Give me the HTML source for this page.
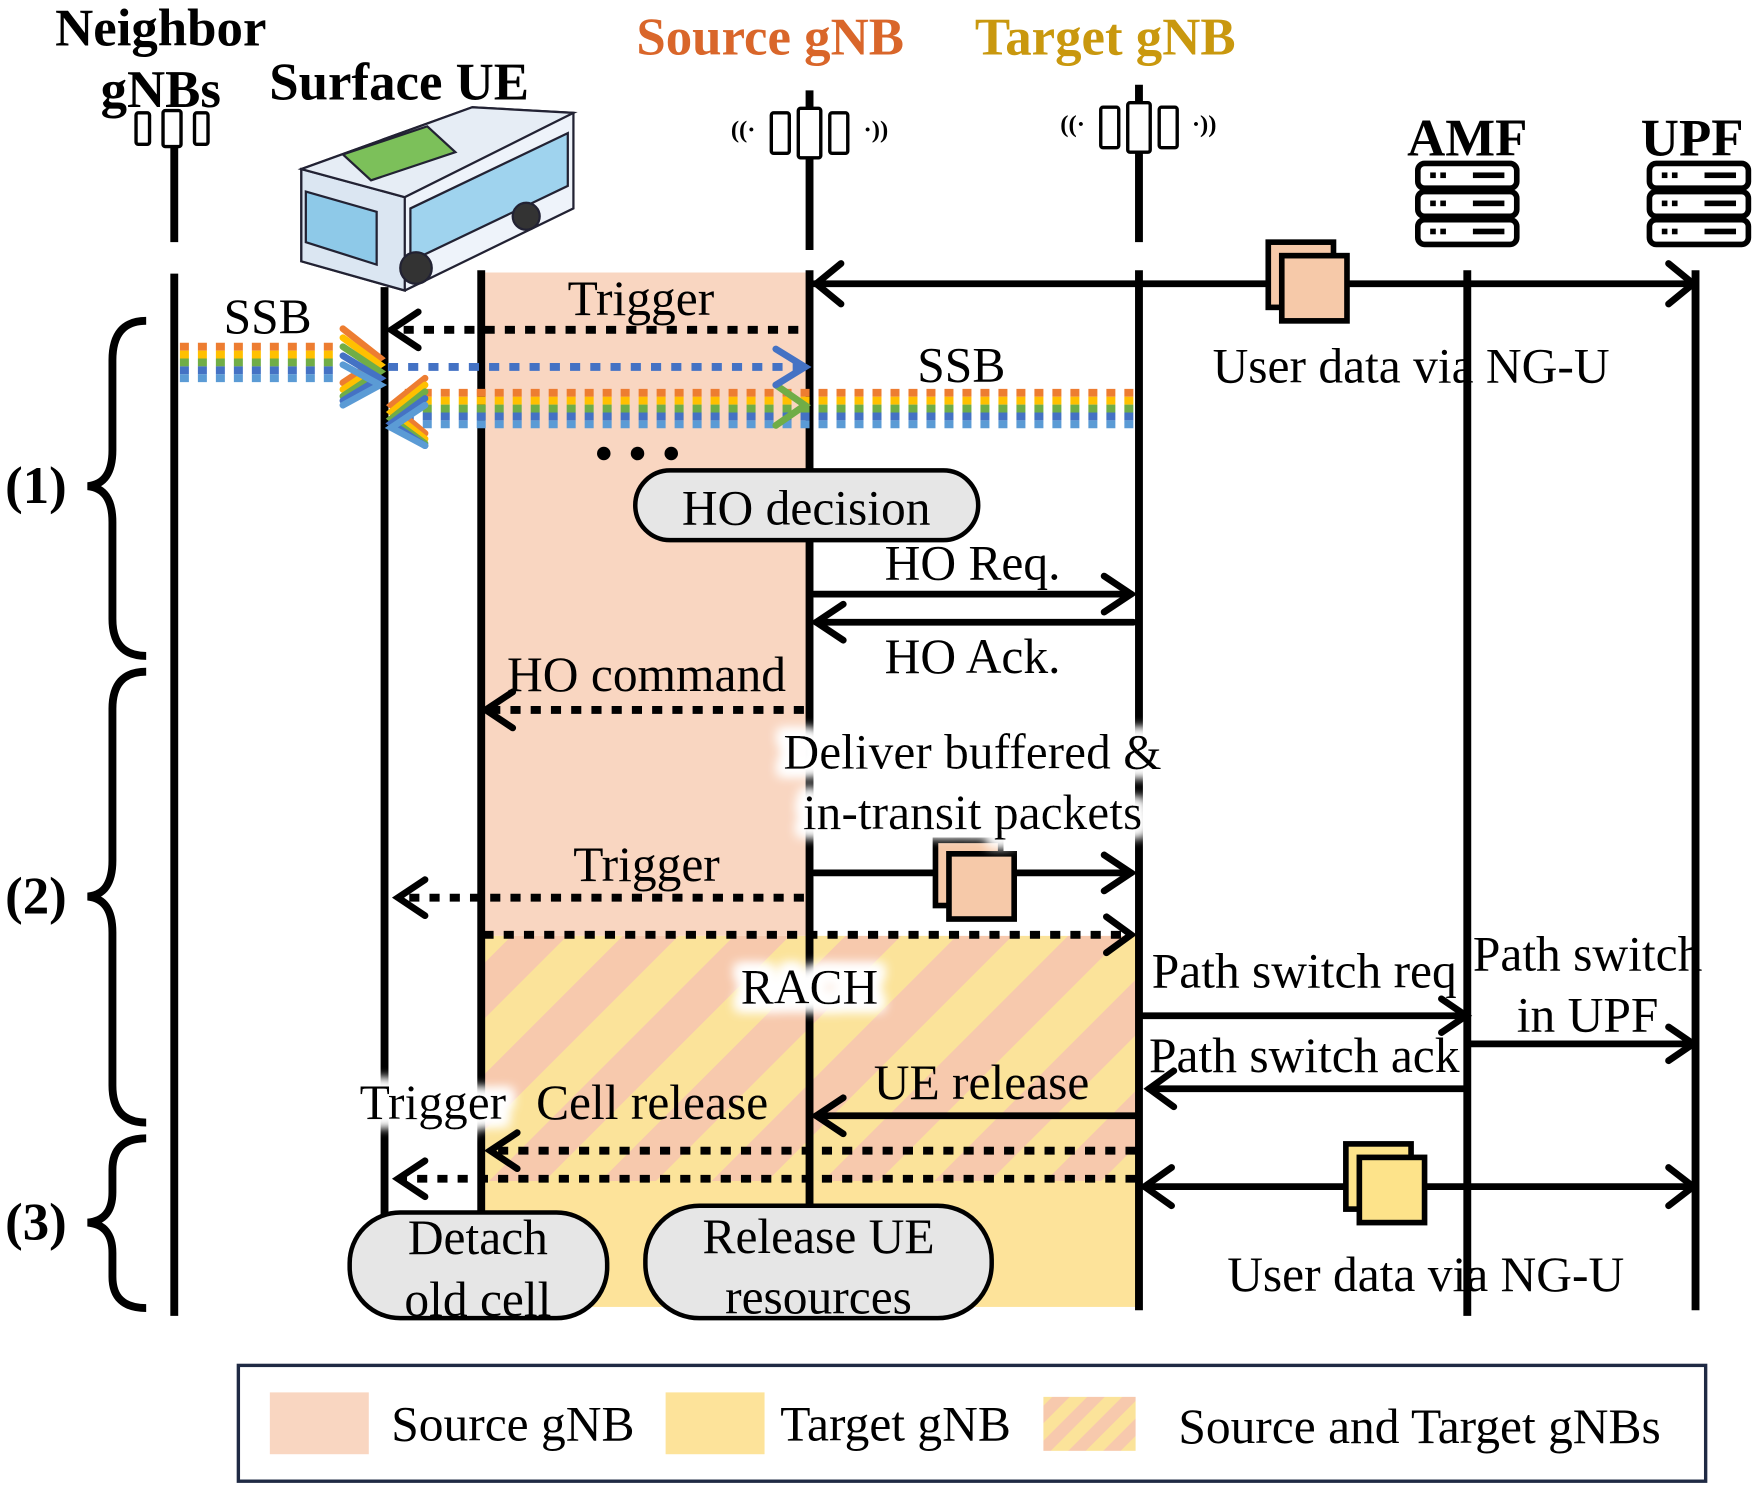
<!DOCTYPE html>
<html><head><meta charset="utf-8"><style>
html,body{margin:0;padding:0;background:#fff;}
svg{display:block;}
text{font-family:"Liberation Serif",serif;}
</style></head><body>
<svg width="1754" height="1485" viewBox="0 0 1560 1320" xmlns="http://www.w3.org/2000/svg">
<defs>
<pattern id="hatch" patternUnits="userSpaceOnUse" width="70" height="70" patternTransform="rotate(45)">
<rect width="70" height="70" fill="#fbe39a"/>
<rect width="35" height="70" fill="#f7c9ad"/>
</pattern>
<pattern id="hatch2" patternUnits="userSpaceOnUse" width="22" height="22" patternTransform="rotate(45)">
<rect width="22" height="22" fill="#fbe39a"/>
<rect width="11" height="22" fill="#f7c9ad"/>
</pattern>
<filter id="glow"><feMorphology operator="dilate" radius="6" in="SourceAlpha" result="d"/><feGaussianBlur in="d" stdDeviation="5" result="b"/><feFlood flood-color="#fff"/><feComposite in2="b" operator="in"/><feMerge><feMergeNode/><feMergeNode/><feMergeNode in="SourceGraphic"/></feMerge></filter>
</defs>

<rect x="428" y="242" width="292" height="590" fill="#f9d6c1"/>
<rect x="428" y="832" width="584" height="218" fill="url(#hatch)"/>
<rect x="428" y="1050" width="584" height="112" fill="#fde39a"/>

<g stroke="#000" stroke-width="7" fill="none">
<line x1="155" y1="130" x2="155" y2="215"/>
<line x1="155" y1="243" x2="155" y2="1170"/>
<line x1="342" y1="255" x2="342" y2="1080"/>
<line x1="428" y1="240" x2="428" y2="1080"/>
<line x1="720" y1="80" x2="720" y2="222"/>
<line x1="720" y1="240" x2="720" y2="1072"/>
<line x1="1013" y1="75" x2="1013" y2="215"/>
<line x1="1013" y1="240" x2="1013" y2="1165"/>
<line x1="1305" y1="240" x2="1305" y2="1170"/>
<line x1="1508" y1="240" x2="1508" y2="1165"/>
</g>

<g stroke="#000" stroke-width="3" fill="#fff">
<rect x="686" y="100" width="16" height="36" rx="2"/><rect x="738" y="100" width="16" height="36" rx="2"/><rect x="710" y="96" width="20" height="44" rx="2"/>
<rect x="979" y="95" width="16" height="36" rx="2"/><rect x="1031" y="95" width="16" height="36" rx="2"/><rect x="1003" y="91" width="20" height="44" rx="2"/>
<rect x="121" y="100" width="12" height="28" rx="2"/><rect x="173" y="100" width="12" height="28" rx="2"/><rect x="145" y="98" width="16" height="32" rx="2"/>
</g>
<g font-size="22" font-family="DejaVu Sans" font-weight="bold" fill="#000">
<text x="650" y="122">((·</text><text x="768" y="122">·))</text>
<text x="943" y="117">((·</text><text x="1060" y="117">·))</text>
</g>

<g stroke="#000" stroke-width="5" fill="#fff">
<rect x="1261" y="145" width="88" height="22" rx="6"/><rect x="1261" y="170" width="88" height="22" rx="6"/><rect x="1261" y="195" width="88" height="22" rx="6"/>
<rect x="1467" y="145" width="88" height="22" rx="6"/><rect x="1467" y="170" width="88" height="22" rx="6"/><rect x="1467" y="195" width="88" height="22" rx="6"/>
</g>
<g fill="#000">
<rect x="1272" y="153" width="5" height="5"/><rect x="1281" y="153" width="5" height="5"/><rect x="1310" y="153" width="28" height="5"/>
<rect x="1272" y="178" width="5" height="5"/><rect x="1281" y="178" width="5" height="5"/><rect x="1310" y="178" width="28" height="5"/>
<rect x="1272" y="203" width="5" height="5"/><rect x="1281" y="203" width="5" height="5"/><rect x="1310" y="203" width="28" height="5"/>
<rect x="1478" y="153" width="5" height="5"/><rect x="1487" y="153" width="5" height="5"/><rect x="1516" y="153" width="28" height="5"/>
<rect x="1478" y="178" width="5" height="5"/><rect x="1487" y="178" width="5" height="5"/><rect x="1516" y="178" width="28" height="5"/>
<rect x="1478" y="203" width="5" height="5"/><rect x="1487" y="203" width="5" height="5"/><rect x="1516" y="203" width="28" height="5"/>
</g>

<g stroke="#223" stroke-width="2">
<polygon points="268,150 420,95 510,100 510,185 360,258 268,232" fill="#eef3fa"/>
<polygon points="268,150 360,175 360,258 268,232" fill="#dbe6f2"/>
<polygon points="268,150 420,95 510,100 360,175" fill="#e6edf5"/>
<polygon points="305,137 380,112 405,135 330,160" fill="#7cc05a"/>
<polygon points="272,170 335,188 335,235 272,215" fill="#8ec9e8"/>
<polygon points="365,185 505,118 505,165 365,232" fill="#9fd3ee"/>
<circle cx="370" cy="238" r="14" fill="#333"/><circle cx="468" cy="192" r="12" fill="#333"/>
</g>

<g font-weight="bold" font-size="47" text-anchor="middle">
<text x="143" y="40">Neighbor</text>
<text x="143" y="95">gNBs</text>
<text x="355" y="88">Surface UE</text>
<text x="685" y="48" fill="#d9662a">Source gNB</text>
<text x="983" y="48" fill="#c9980e">Target gNB</text>
<text x="1305" y="138">AMF</text>
<text x="1505" y="138">UPF</text>
<text x="32" y="447">(1)</text>
<text x="32" y="812">(2)</text>
<text x="32" y="1102">(3)</text>
</g>

<g stroke="#000" stroke-width="7" fill="none">
<path d="M130,285 Q100,285 100,320 L100,400 Q100,430 78,432 Q100,434 100,464 L100,550 Q100,583 130,583"/>
<path d="M130,597 Q100,597 100,630 L100,765 Q100,795 78,797 Q100,799 100,829 L100,965 Q100,998 130,998"/>
<path d="M130,1012 Q100,1012 100,1040 L100,1060 Q100,1085 78,1087 Q100,1089 100,1114 L100,1135 Q100,1163 130,1163"/>
</g>

<g stroke-width="7" stroke-dasharray="8 8">
<line x1="160" y1="308" x2="300" y2="308" stroke="#ed7d31"/>
<line x1="160" y1="315" x2="300" y2="315" stroke="#ffc000"/>
<line x1="160" y1="322" x2="300" y2="322" stroke="#70ad47"/>
<line x1="160" y1="329" x2="300" y2="329" stroke="#4472c4"/>
<line x1="160" y1="336" x2="300" y2="336" stroke="#5b9bd5"/>
<line x1="1008" y1="349" x2="360" y2="349" stroke="#ed7d31"/>
<line x1="1008" y1="356" x2="360" y2="356" stroke="#ffc000"/>
<line x1="1008" y1="363" x2="360" y2="363" stroke="#70ad47"/>
<line x1="1008" y1="370" x2="360" y2="370" stroke="#4472c4"/>
<line x1="1008" y1="377" x2="360" y2="377" stroke="#5b9bd5"/>
</g>
<g fill="none" stroke-width="6" stroke-linecap="round">
<polyline points="305,292 338,318 305,340" stroke="#ed7d31"/>
<polyline points="305,300 338,324 305,346" stroke="#ffc000"/>
<polyline points="305,308 338,330 305,352" stroke="#70ad47"/>
<polyline points="305,316 338,336 305,356" stroke="#4472c4"/>
<polyline points="305,324 338,342 305,360" stroke="#5b9bd5"/>
<polyline points="378,336 348,360 378,385" stroke="#ed7d31"/>
<polyline points="378,342 348,366 378,390" stroke="#ffc000"/>
<polyline points="378,348 348,372 378,394" stroke="#70ad47"/>
<polyline points="378,354 348,376 378,396" stroke="#4472c4"/>
<polyline points="378,360 348,380 378,396" stroke="#5b9bd5"/>
<polyline points="690,342 716,360 690,378" stroke="#70ad47"/>
</g>
<line x1="345" y1="326" x2="712" y2="326" stroke="#4472c4" stroke-width="7" stroke-dasharray="9 9"/>
<polyline points="690,310 716,326 690,342" fill="none" stroke="#4472c4" stroke-width="6" stroke-linecap="round"/>

<g stroke="#000" stroke-width="6" fill="none" stroke-linecap="round">
<line x1="724" y1="252" x2="1505" y2="252"/>
<polyline points="748,234 726,252 748,270"/><polyline points="1484,234 1506,252 1484,270"/>
<line x1="724" y1="528" x2="1006" y2="528"/><polyline points="982,512 1006,528 982,544"/>
<line x1="1008" y1="553" x2="726" y2="553"/><polyline points="750,537 726,553 750,569"/>
<line x1="724" y1="776" x2="1006" y2="776"/><polyline points="982,760 1006,776 982,792"/>
<line x1="1017" y1="903" x2="1304" y2="903"/><polyline points="1282,888 1304,903 1282,918"/>
<line x1="1308" y1="928" x2="1505" y2="928"/><polyline points="1484,913 1506,928 1484,943"/>
<line x1="1302" y1="968" x2="1022" y2="968"/><polyline points="1044,952 1022,968 1044,984"/>
<line x1="1010" y1="992" x2="726" y2="992"/><polyline points="750,976 726,992 750,1008"/>
<line x1="1018" y1="1055" x2="1505" y2="1055"/><polyline points="1042,1038 1018,1055 1042,1072"/><polyline points="1484,1038 1506,1055 1484,1072"/>
</g>
<g stroke="#000" stroke-width="7" fill="none" stroke-dasharray="9 9">
<line x1="710" y1="293" x2="350" y2="293"/>
<line x1="715" y1="631" x2="435" y2="631"/>
<line x1="715" y1="798" x2="356" y2="798"/>
<line x1="430" y1="831" x2="1000" y2="831"/>
<line x1="1010" y1="1023" x2="436" y2="1023"/>
<line x1="1010" y1="1048" x2="356" y2="1048"/>
</g>
<g stroke="#000" stroke-width="6" fill="none" stroke-linecap="round">
<polyline points="372,277 348,293 372,309"/>
<polyline points="456,615 432,631 456,647"/>
<polyline points="378,782 354,798 378,814"/>
<polyline points="984,815 1006,831 984,847"/>
<polyline points="460,1007 436,1023 460,1039"/>
<polyline points="378,1032 354,1048 378,1064"/>
</g>
<g fill="#000"><circle cx="537" cy="403" r="6"/><circle cx="567" cy="403" r="6"/><circle cx="597" cy="403" r="6"/></g>

<g stroke="#000" stroke-width="5">
<rect x="1128" y="215" width="58" height="58" fill="#f6c9a9"/><rect x="1140" y="227" width="58" height="58" fill="#f6c9a9"/>
<rect x="832" y="747" width="58" height="58" fill="#f6c9a9"/><rect x="844" y="759" width="58" height="58" fill="#f6c9a9"/>
<rect x="1197" y="1017" width="58" height="58" fill="#fde38a"/><rect x="1209" y="1029" width="58" height="58" fill="#fde38a"/>
</g>

<g stroke="#000" stroke-width="4" fill="#e6e6e6">
<rect x="565" y="418" width="305" height="62" rx="31"/>
<rect x="311" y="1078" width="229" height="94" rx="45"/>
<rect x="574" y="1072" width="308" height="100" rx="48"/>
</g>

<g font-size="44" text-anchor="middle">
<text x="570" y="280">Trigger</text>
<text x="238" y="296">SSB</text>
<text x="855" y="339">SSB</text>
<text x="1255" y="340">User data via NG-U</text>
<text x="717" y="466">HO decision</text>
<text x="865" y="515">HO Req.</text>
<text x="865" y="598">HO Ack.</text>
<text x="575" y="614">HO command</text>
<g filter="url(#glow)">
<text x="865" y="683">Deliver buffered &amp;</text>
<text x="865" y="737">in-transit packets</text>
<text x="720" y="892">RACH</text>
<text x="385" y="995">Trigger</text>
</g>
<text x="575" y="783">Trigger</text>
<text x="1160" y="878">Path switch req</text>
<text x="1412" y="863">Path switch</text>
<text x="1412" y="917">in UPF</text>
<text x="1160" y="953">Path switch ack</text>
<text x="873" y="977">UE release</text>
<text x="580" y="995">Cell release</text>
<text x="1268" y="1148">User data via NG-U</text>
<text x="425" y="1115">Detach</text>
<text x="425" y="1170">old cell</text>
<text x="728" y="1114">Release UE</text>
<text x="728" y="1168">resources</text>
</g>

<rect x="212" y="1214" width="1305" height="103" fill="#fff" stroke="#1f2a44" stroke-width="3"/>
<rect x="240" y="1238" width="88" height="55" fill="#f9d6c1"/>
<rect x="592" y="1238" width="88" height="55" fill="#fde39a"/>
<rect x="928" y="1242" width="82" height="48" fill="url(#hatch2)"/>
<g font-size="44">
<text x="348" y="1281">Source gNB</text>
<text x="694" y="1281">Target gNB</text>
<text x="1048" y="1283">Source and Target gNBs</text>
</g>
</svg>
</body></html>
